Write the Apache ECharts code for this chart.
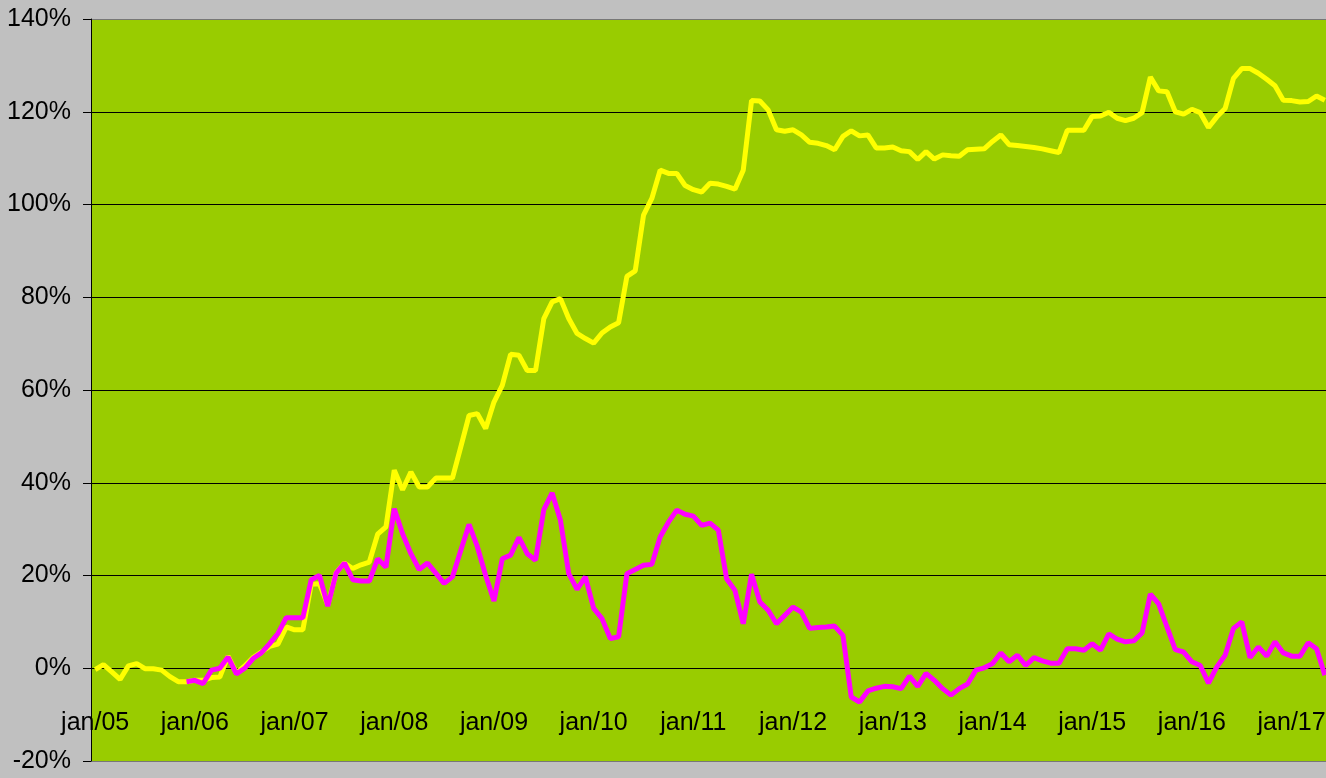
<!DOCTYPE html>
<html>
<head>
<meta charset="utf-8">
<script src="https://cdn.jsdelivr.net/npm/echarts@6/dist/echarts.min.js"></script>
<style>
html,body{margin:0;padding:0;background:#C0C0C0;}
#main{width:1326px;height:778px;}
</style>
</head>
<body>
<div id="main"></div>
<script>
// meses jan/05 .. mai/17
var monthNames = ['jan','fev','mar','abr','mai','jun','jul','ago','set','out','nov','dez'];
var firstYear = 2005, lastYear = 2017, lastMonth = 5;

var yellowSeries = [
  -0.3, 0.8, -0.8, -2.4, 0.5, 1.0, -0.1, -0.1, -0.4, -1.8, -2.9, -2.9,
  -2.6, -2.6, -2.0, -1.9, 2.6, -1.0, 0.5, 2.3, 3.5, 4.7, 5.2, 8.9,
  8.3, 8.3, 18.1, 18.2, 13.6, 20.6, 22.7, 21.5, 22.3, 22.9, 28.9, 30.5,
  42.7, 38.5, 42.3, 39.1, 39.1, 41.0, 41.0, 41.0, 47.7, 54.5, 54.9, 51.7,
  57.4, 61.0, 67.7, 67.5, 64.2, 64.2, 75.4, 79.0, 79.7, 75.4, 72.2, 71.1,
  70.1, 72.3, 73.6, 74.5, 84.5, 85.7, 97.7, 101.3, 107.4, 106.7, 106.7, 104.1,
  103.2, 102.7, 104.6, 104.4, 103.9, 103.3, 107.4, 122.4, 122.3, 120.4, 116.1, 115.8,
  116.1, 115.0, 113.4, 113.2, 112.7, 111.8, 114.7, 115.9, 114.8, 115.0, 112.2, 112.2,
  112.4, 111.6, 111.4, 109.7, 111.4, 109.8, 110.7, 110.5, 110.4, 111.8, 111.9, 112.0,
  113.6, 115.0, 112.9, 112.7, 112.5, 112.3, 112.0, 111.6, 111.2, 116.0, 116.0, 116.0,
  119.0, 119.1, 119.9, 118.6, 118.1, 118.6, 119.8, 127.5, 124.5, 124.3, 120.0, 119.5,
  120.5, 119.8, 116.6, 118.9, 120.7, 127.2, 129.3, 129.3, 128.3, 127.0, 125.6, 122.5,
  122.4, 122.1, 122.2, 123.4, 122.5
];

var magentaSeries = [
  null, null, null, null, null, null, null, null, null, null, null, -2.9,
  -2.6, -3.3, -0.4, 0.0, 2.4, -1.2, 0.0, 2.1, 3.3, 5.3, 7.5, 10.9,
  10.9, 10.9, 19.1, 20.0, 13.4, 20.5, 22.7, 19.1, 18.8, 18.8, 23.6, 21.8,
  34.4, 29.0, 24.7, 21.3, 22.7, 20.5, 18.3, 19.7, 25.4, 31.0, 26.2, 20.0,
  14.5, 23.6, 24.4, 28.2, 24.7, 23.3, 34.2, 37.8, 31.9, 20.4, 17.0, 19.7,
  12.9, 10.7, 6.4, 6.8, 20.4, 21.3, 22.2, 22.4, 28.3, 31.5, 34.1, 33.2,
  32.8, 30.8, 31.3, 29.8, 19.3, 16.8, 9.6, 20.3, 14.3, 12.5, 9.6, 11.4,
  13.2, 12.1, 8.6, 8.8, 8.9, 9.1, 7.1, -6.2, -7.3, -4.9, -4.3, -3.9,
  -4.0, -4.4, -1.7, -3.9, -1.1, -2.6, -4.4, -5.8, -4.4, -3.4, -0.4, 0.1,
  1.0, 3.3, 1.4, 2.8, 0.6, 2.3, 1.6, 1.1, 1.1, 4.2, 4.2, 3.9,
  5.3, 3.9, 7.4, 6.3, 5.7, 5.9, 7.6, 16.0, 13.9, 8.9, 4.0, 3.5,
  1.4, 0.6, -3.2, 0.3, 2.8, 8.6, 10.0, 2.3, 4.6, 2.6, 5.7, 3.3,
  2.6, 2.6, 5.5, 4.2, -1.5
];

var yTicks = [-20, 0, 20, 40, 60, 80, 100, 120, 140];

var categories = [];
for (var y = firstYear; y <= lastYear; y++) {
  for (var m = 0; m < 12; m++) {
    if (y == lastYear && m >= lastMonth) break;
    categories.push(monthNames[m] + '/' + String(y).slice(2));
  }
}

var labelFont = "'Liberation Sans', Arial, sans-serif";

/***
 * grid e deslocamento do eixo x até a linha do 0%
 */
var chartH = 778, gridTop = 19, gridBottom = 17;
var yMin = yTicks[0], yMax = yTicks[yTicks.length - 1];
var plotH = chartH - gridTop - gridBottom;
var zeroOffset = -plotH * (0 - yMin) / (yMax - yMin);

var chart = echarts.init(document.getElementById('main'));
var option = {
  animation: false,
  backgroundColor: '#C0C0C0',
  grid: {
    left: 91,
    right: -3,
    top: gridTop,
    bottom: gridBottom,
    show: true,
    backgroundColor: '#99CC00',
    borderWidth: 0,
    outerBoundsMode: 'none'
  },
  xAxis: {
    type: 'category',
    data: categories,
    boundaryGap: true,
    position: 'bottom',
    offset: zeroOffset,
    axisLine: { onZero: false, lineStyle: { color: '#000', width: 1 } },
    axisTick: { interval: 11, length: 10, lineStyle: { color: '#000' } },
    axisLabel: {
      show: true,
      interval: 11,
      margin: 42,
      color: '#000',
      fontSize: 25,
      fontFamily: labelFont
    },
    splitLine: { show: false }
  },
  yAxis: {
    type: 'value',
    min: yMin,
    max: yMax,
    interval: 20,
    axisLine: { show: true, onZero: false, lineStyle: { color: '#000', width: 1 } },
    axisTick: { show: true, length: 8, lineStyle: { color: '#000' } },
    axisLabel: {
      formatter: '{value}%',
      margin: 20,
      color: '#000',
      fontSize: 25,
      fontFamily: labelFont
    },
    splitLine: {
      show: true,
      lineStyle: {
        color: ['#777', '#000', '#000', '#000', '#000', '#000', '#000', '#000', '#777'],
        width: 1
      }
    }
  },
  series: [
    {
      name: 'amarelo',
      type: 'line',
      data: yellowSeries,
      showSymbol: false,
      lineStyle: { color: '#FFFF00', width: 5 },
      itemStyle: { color: '#FFFF00' }
    },
    {
      name: 'magenta',
      type: 'line',
      data: magentaSeries,
      showSymbol: false,
      lineStyle: { color: '#FF00FF', width: 5 },
      itemStyle: { color: '#FF00FF' }
    }
  ]
};
chart.setOption(option);
</script>
</body>
</html>
